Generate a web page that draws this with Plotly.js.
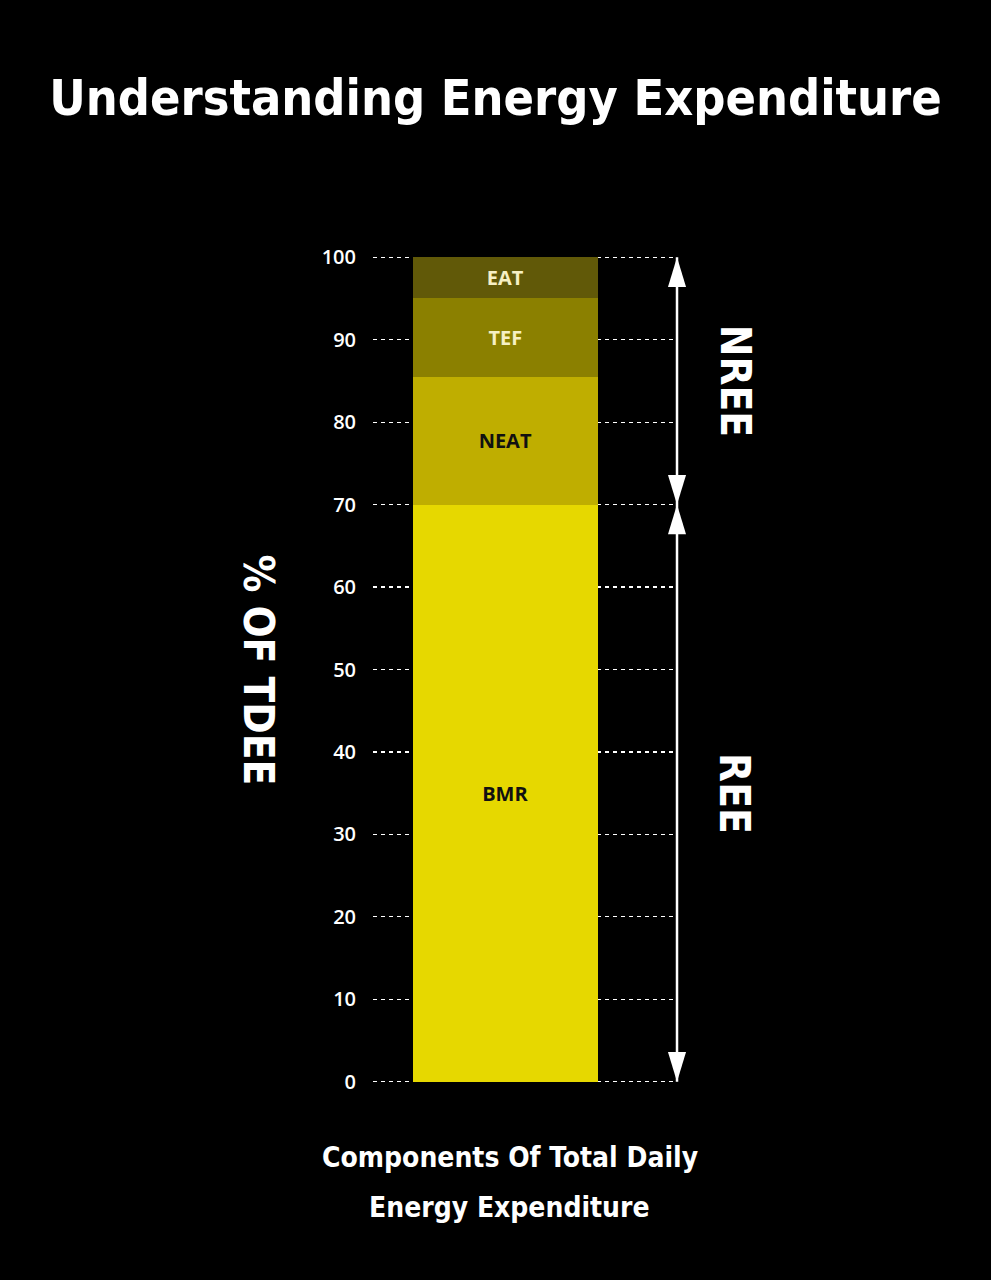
<!DOCTYPE html>
<html>
<head>
<meta charset="utf-8">
<script src="https://cdn.plot.ly/plotly-3.0.1.min.js"></script>
<style>
  html, body { margin: 0; padding: 0; background: #000; }
  #plot { width: 991px; height: 1280px; }
</style>
</head>
<body>
<div id="plot"></div>
<script>
// stacked components, % of TDEE (bottom to top)
let components = ['BMR', 'NEAT', 'TEF', 'EAT'];
let shares = [70, 15.5, 9.5, 5];
let barColors = ['#e6d800', '#bfae00', '#8b8000', '#615908'];
let labelColors = ['#111111', '#111111', '#f6f0c4', '#f6f0c4'];
let category = ['TDEE'];
let yTicks = [0, 10, 20, 30, 40, 50, 60, 70, 80, 90, 100];

let condensed = '"DejaVu Sans Condensed", "DejaVu Sans", sans-serif';

let data = components.map((name, i) => ({
  type: 'bar',
  name: name,
  x: category,
  y: [shares[i]],
  width: 1,
  text: [name],
  textposition: 'inside',
  insidetextanchor: 'middle',
  textangle: 0,
  textfont: {family: 'Open Sans, sans-serif', size: 20, weight: 700, color: labelColors[i]},
  marker: {color: barColors[i], line: {width: 0}},
  hoverinfo: 'skip'
}));

// REE = BMR, NREE = everything above it
let ree = shares[0];
let total = shares.reduce((a, b) => a + b, 0);

// arrow decorations
let arrowX = 1.01;
let headLen = 3.6;   // y units
let headHalf = 0.03; // paper units
function head(tip, dir) {
  let base = tip - dir * headLen;
  return {
    type: 'path', xref: 'paper', yref: 'y',
    path: 'M ' + (arrowX - headHalf) + ' ' + base + ' L ' + arrowX + ' ' + tip +
          ' L ' + (arrowX + headHalf) + ' ' + base + ' Z',
    fillcolor: '#ffffff', line: {width: 0}
  };
}
let shapes = [
  {type: 'line', xref: 'paper', yref: 'y', x0: arrowX, x1: arrowX, y0: 0, y1: total,
   line: {color: '#ffffff', width: 2.5}},
  head(total, 1), head(ree, -1), head(ree, 1), head(0, -1)
];

let bigFont = (size) => ({family: condensed, size: size, weight: 700, color: '#ffffff'});

let layout = {
  width: 991,
  height: 1280,
  paper_bgcolor: '#000000',
  plot_bgcolor: '#000000',
  barmode: 'stack',
  showlegend: false,
  margin: {l: 373, r: 317, t: 249, b: 190},
  title: {
    text: 'Understanding Energy Expenditure',
    font: bigFont(50),
    x: 0.5, xanchor: 'center', y: 0.924, yanchor: 'middle'
  },
  xaxis: {
    type: 'category',
    range: [-0.715, 0.912],
    showticklabels: false,
    showgrid: false,
    zeroline: false,
    showline: false,
    fixedrange: true
  },
  yaxis: {
    range: [-1, 101],
    tickvals: yTicks,
    ticktext: yTicks.map(String),
    tickfont: {family: 'Open Sans, sans-serif', size: 20, weight: 600, color: '#ffffff'},
    ticklabelstandoff: 16,
    showgrid: true,
    gridcolor: '#ffffff',
    gridwidth: 1.3,
    griddash: '4px,4px',
    zeroline: false,
    showline: false,
    fixedrange: true
  },
  shapes: shapes,
  annotations: [
    {
      text: 'NREE', xref: 'paper', yref: 'y', x: 1.203, y: (ree + total) / 2,
      xanchor: 'center', yanchor: 'middle',
      textangle: 90, showarrow: false, font: bigFont(42)
    },
    {
      text: 'REE', xref: 'paper', yref: 'y', x: 1.203, y: ree / 2,
      xanchor: 'center', yanchor: 'middle',
      textangle: 90, showarrow: false, font: bigFont(42)
    },
    {
      text: '% OF TDEE', xref: 'paper', yref: 'paper', x: -0.382, y: 0.5,
      xanchor: 'center', yanchor: 'middle',
      textangle: 90, showarrow: false, font: bigFont(42)
    },
    {
      text: 'Components Of Total Daily',
      xref: 'paper', yref: 'paper', x: 0.455, y: -0.0797,
      xanchor: 'center', yanchor: 'middle',
      showarrow: false, font: bigFont(28)
    },
    {
      text: 'Energy Expenditure',
      xref: 'paper', yref: 'paper', x: 0.455, y: -0.1403,
      xanchor: 'center', yanchor: 'middle',
      showarrow: false, font: bigFont(28)
    }
  ]
};

Plotly.newPlot('plot', data, layout, {displayModeBar: false, staticPlot: true});
</script>
</body>
</html>
